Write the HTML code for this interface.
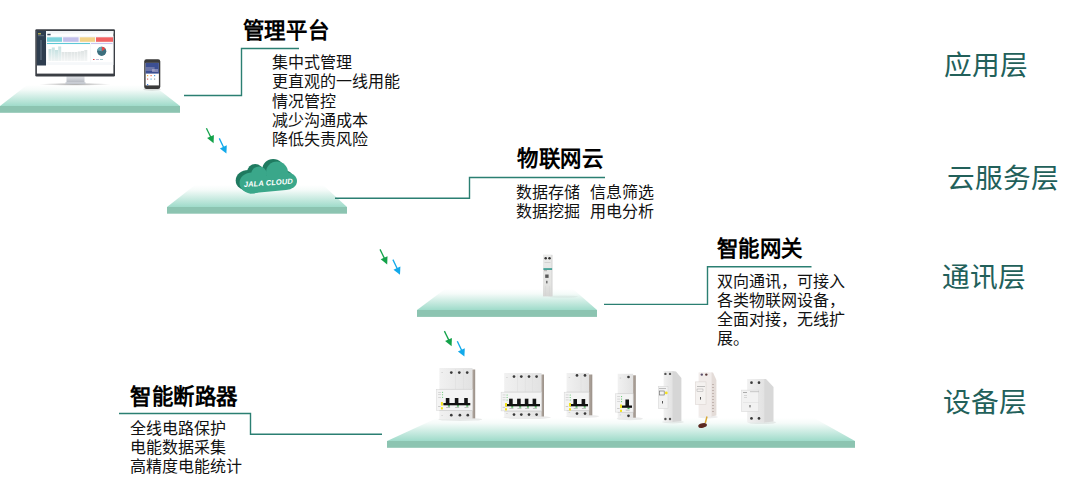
<!DOCTYPE html>
<html lang="zh-CN"><head><meta charset="utf-8">
<style>
html,body{margin:0;padding:0;background:#fff;}
body{width:1068px;height:490px;position:relative;overflow:hidden;font-family:"Liberation Sans",sans-serif;color:#111;}
.t{position:absolute;white-space:nowrap;}
.h{font-size:21.4px;letter-spacing:0.6px;font-weight:bold;line-height:24px;color:#000;}
.b{font-size:16px;line-height:19px;color:#111;}
.lay{font-size:27.7px;line-height:30px;color:#22605a;}
svg{position:absolute;left:0;top:0;}
</style></head><body>
<svg width="1068" height="490" viewBox="0 0 1068 490">
<defs>
<linearGradient id="pg" x1="0" y1="0" x2="0" y2="1">
<stop offset="0" stop-color="#ffffff"/>
<stop offset="0.22" stop-color="#f5fbf9"/>
<stop offset="1" stop-color="#9fdbca"/>
</linearGradient>
<linearGradient id="body" x1="0" y1="0" x2="1" y2="0">
<stop offset="0" stop-color="#f1f1f1"/>
<stop offset="1" stop-color="#e2e2e2"/>
</linearGradient>
<linearGradient id="side" x1="0" y1="0" x2="1" y2="0">
<stop offset="0" stop-color="#b6aca4"/>
<stop offset="1" stop-color="#9a9088"/>
</linearGradient>
<linearGradient id="stand" x1="0" y1="0" x2="0" y2="1">
<stop offset="0" stop-color="#e4e6ea"/>
<stop offset="1" stop-color="#b4b8c0"/>
</linearGradient>
<linearGradient id="bars" x1="0" y1="0" x2="0" y2="1">
<stop offset="0" stop-color="#c6e2e2"/>
<stop offset="1" stop-color="#f0f4f4"/>
</linearGradient>
<linearGradient id="bars2" x1="0" y1="0" x2="0" y2="1">
<stop offset="0" stop-color="#dfe4e4"/>
<stop offset="1" stop-color="#f4f6f6"/>
</linearGradient>
<radialGradient id="shd" cx="0.5" cy="0.5" r="0.5">
<stop offset="0" stop-color="#000" stop-opacity="0.35"/>
<stop offset="1" stop-color="#000" stop-opacity="0"/>
</radialGradient>
<linearGradient id="gw" x1="0" y1="0" x2="0" y2="1">
<stop offset="0" stop-color="#ebebea"/>
<stop offset="0.7" stop-color="#e4e4e2"/>
<stop offset="1" stop-color="#d6d6d4"/>
</linearGradient>
</defs>
<!-- platforms -->
<polygon points="0,106 27,85 153,85 180,106" fill="url(#pg)"/>
<rect x="0" y="106" width="180" height="6.8" fill="#8cc4b1"/>
<polygon points="167,207 195,185 323,185 347,207" fill="url(#pg)"/>
<rect x="167" y="207" width="180" height="6.7" fill="#8cc4b1"/>
<polygon points="417,310 445,289 573,289 597,310" fill="url(#pg)"/>
<rect x="417" y="310" width="180" height="6.9" fill="#8cc4b1"/>
<polygon points="387,441 437,418 814,418 855,441" fill="url(#pg)"/>
<rect x="387" y="441" width="468" height="6.8" fill="#8cc4b1"/>
<!-- connectors -->
<g fill="none" stroke="#2b7f72" stroke-width="1.4">
<polyline points="184,95.5 241.5,95.5 241.5,48.5 299,48.5"/>
<polyline points="335,198.3 469.5,198.3 469.5,177.5 605,177.5"/>
<polyline points="604,304.4 707.5,304.4 707.5,266.8 811.5,266.8"/>
<polyline points="119,413.5 250.5,413.5 250.5,434.3 382,434.3"/>
</g>
<!-- arrows -->
<defs>
<g id="arr">
<line x1="0" y1="0" x2="5.2" y2="10.5" stroke="#13a24a" stroke-width="1.3"/>
<polygon points="0.7,9.9 7.5,6.9 7.2,15.1" fill="#13a24a"/>
<line x1="12.9" y1="10.2" x2="18" y2="20.8" stroke="#12a9ea" stroke-width="1.3"/>
<polygon points="13.5,20.4 20.4,17.1 20,25.3" fill="#12a9ea"/>
</g>
</defs>
<use href="#arr" x="206.4" y="128.2"/>
<use href="#arr" x="380" y="249.4"/>
<use href="#arr" x="444.4" y="331.1"/>

<ellipse cx="75" cy="84.3" rx="36" ry="1.5" fill="url(#shd)"/>
<rect x="66.5" y="76" width="18" height="6.5" fill="url(#stand)"/>
<rect x="65.5" y="82.3" width="20" height="1.8" fill="#c4c8cf"/>
<rect x="35.3" y="29.2" width="79.7" height="47.3" rx="1.2" fill="#3a3e44"/>
<rect x="36.9" y="31" width="76.5" height="42.6" fill="#ffffff"/>
<rect x="36.9" y="31" width="9.1" height="34.5" fill="#2e3d4f"/>
<rect x="38" y="33" width="3" height="1.5" fill="#e0d050" opacity="0.7"/>
<rect x="38" y="35.5" width="6" height="0.6" fill="#7a8898"/>
<rect x="40" y="40" width="2" height="20" fill="#4a5a6c"/>
<rect x="46" y="31" width="67.4" height="2.5" fill="#f2f4f6"/>
<rect x="47.3" y="33.8" width="3.3" height="1.5" fill="#3a4a5c"/>
<rect x="46" y="36" width="67.4" height="29" fill="#f6f8fa"/>
<rect x="47" y="37.3" width="15" height="4.5" fill="#7dd3dc"/>
<rect x="63.1" y="37.3" width="15.5" height="4.5" fill="#c2bfea"/>
<rect x="79.8" y="37.3" width="15.2" height="4.5" fill="#f2d286"/>
<rect x="96" y="37.3" width="17" height="4.5" fill="#f26262"/>
<rect x="47" y="43" width="43" height="1.2" fill="#5cc8d6"/>
<rect x="91" y="43" width="21.5" height="1.2" fill="#c9c5ee"/>
<rect x="47" y="44.2" width="43" height="18" fill="#ffffff"/>
<rect x="91" y="44.2" width="21.5" height="18" fill="#ffffff"/>
<g fill="url(#bars)">
<rect x="48.5" y="49" width="3" height="12"/><rect x="51.8" y="47.5" width="3" height="13.5"/>
<rect x="55" y="50" width="3" height="11"/><rect x="58.2" y="46.5" width="3" height="14.5"/>
</g>
<g fill="url(#bars2)">
<rect x="61.5" y="52" width="3" height="9"/><rect x="64.8" y="52" width="3" height="9"/>
<rect x="68" y="52" width="3" height="9"/><rect x="71.3" y="52" width="3" height="9"/>
<rect x="74.5" y="52" width="3" height="9"/><rect x="77.8" y="51.5" width="3" height="9.5"/>
<rect x="81" y="51" width="3" height="10"/><rect x="84.3" y="50" width="3" height="11"/>
</g>
<circle cx="101.7" cy="51.3" r="4.6" fill="#3d6f7e"/>
<path d="M101.7 51.3 L101.7 46.7 A4.6 4.6 0 0 1 105.5 48.8 Z" fill="#e24848"/>
<path d="M101.7 51.3 L97.2 50.2 A4.6 4.6 0 0 1 101.7 46.7 Z" fill="#6aa9b6"/>
<rect x="93" y="59" width="1.5" height="1" fill="#e24848"/>
<rect x="96" y="59" width="3" height="0.8" fill="#aac"/>
<rect x="100" y="59" width="3" height="0.8" fill="#8bb"/>

<ellipse cx="152" cy="89.5" rx="9" ry="1.2" fill="#000" opacity="0.12"/>
<rect x="144.2" y="59.2" width="16.1" height="29.8" rx="2.2" fill="#3a3a3a"/>
<rect x="145.6" y="62.9" width="13.3" height="22.5" fill="#ffffff"/>
<rect x="145.6" y="62.9" width="13.3" height="10.7" fill="#3c4f92"/>
<rect x="145.6" y="67" width="9" height="4" fill="#8a90b8" opacity="0.6"/>
<rect x="152" y="69" width="6" height="3" fill="#c8c0d8" opacity="0.5"/>
<rect x="147" y="75" width="1.2" height="1.2" fill="#f0b040"/>
<rect x="150.5" y="75" width="1.2" height="1.2" fill="#f07050"/>
<rect x="154" y="75" width="1.2" height="1.2" fill="#50a0e0"/>
<rect x="147" y="78.5" width="1.2" height="1.2" fill="#e06060"/>
<rect x="150.5" y="78.5" width="1.2" height="1.2" fill="#60b0e0"/>
<rect x="154" y="78.5" width="1.2" height="1.2" fill="#90a0b0"/>
<rect x="147" y="84" width="1.2" height="1.2" fill="#4080e0"/>

<g>
<g fill="#1f7a60" transform="translate(-3.8,-2.6)">
<ellipse cx="252" cy="183" rx="12.5" ry="10.5"/>
<circle cx="259" cy="174.5" r="8"/>
<circle cx="277" cy="172.5" r="11"/>
<ellipse cx="286" cy="181" rx="11" ry="9"/>
<polygon points="250,193.5 286,190 286,176 250,176"/>
</g>
<g fill="#3aa78a">
<ellipse cx="252" cy="183" rx="12.5" ry="10.5"/>
<circle cx="259" cy="174.5" r="8"/>
<circle cx="277" cy="172.5" r="11"/>
<ellipse cx="286" cy="181" rx="11" ry="9"/>
<polygon points="250,193.5 286,190 286,176 250,176"/>
</g>
<text x="268.3" y="185.4" text-anchor="middle" font-family="Liberation Sans" font-style="italic" font-weight="bold" font-size="7.5" fill="#fff" letter-spacing="0.1" transform="rotate(-4 268 182)">JALA CLOUD</text>
</g>

<ellipse cx="563" cy="296.6" rx="15" ry="1.2" fill="#000" opacity="0.04"/>
<rect x="543" y="254.6" width="9.4" height="41.8" fill="url(#gw)"/>
<rect x="551.4" y="255" width="1" height="41" fill="#d6d6d6"/>
<circle cx="545.7" cy="258.3" r="1.25" fill="#333"/>
<circle cx="549.5" cy="258.3" r="1.25" fill="#333"/>
<rect x="544.5" y="262.5" width="6" height="0.5" fill="#bbb"/>
<rect x="543.4" y="268.2" width="8.7" height="1.7" fill="#3b9d92"/>
<rect x="544" y="270.5" width="3" height="0.6" fill="#888"/>
<rect x="545.2" y="274.5" width="3.4" height="3.4" fill="#5a5a5a"/>
<rect x="546.3" y="280.8" width="1.1" height="2.6" fill="#444"/>
<rect x="545" y="286" width="0.4" height="10" fill="#d2d2d2"/>
<rect x="549" y="286" width="0.4" height="10" fill="#d2d2d2"/>
<ellipse cx="460.3" cy="419.4" rx="21.9" ry="1.6" fill="#000" opacity="0.08"/>
<rect x="472.00" y="369.50" width="3.20" height="48.90" fill="url(#side)" />
<rect x="439.40" y="368.00" width="33.10" height="50.90" fill="url(#body)" />
<rect x="455.05" y="369.00" width="0.50" height="20.50" fill="#dcdcdc" />
<rect x="463.00" y="369.00" width="0.50" height="20.50" fill="#dcdcdc" />
<rect x="436.60" y="389.50" width="35.90" height="20.80" fill="#f4f4f4" stroke="#d4d4d4" stroke-width="0.5"/>
<rect x="439.40" y="410.30" width="33.10" height="0.60" fill="#cfcfcf" />
<rect x="439.40" y="388.90" width="33.10" height="0.60" fill="#d8d8d8" />
<circle cx="451.30" cy="372.60" r="1.35" fill="#3a3a3a" />
<circle cx="459.30" cy="372.60" r="1.35" fill="#3a3a3a" />
<circle cx="467.20" cy="372.60" r="1.35" fill="#3a3a3a" />
<circle cx="451.30" cy="415.20" r="1.35" fill="#3a3a3a" />
<circle cx="459.90" cy="415.20" r="1.35" fill="#3a3a3a" />
<circle cx="467.80" cy="415.20" r="1.35" fill="#3a3a3a" />
<rect x="445.80" y="398.00" width="3.60" height="5.50" fill="#141414" />
<rect x="447.90" y="405.20" width="2.00" height="1.40" fill="#3cb54a" />
<rect x="454.80" y="398.00" width="3.60" height="5.50" fill="#141414" />
<rect x="456.90" y="405.20" width="2.00" height="1.40" fill="#3cb54a" />
<rect x="464.20" y="398.00" width="3.60" height="5.50" fill="#141414" />
<rect x="466.30" y="405.20" width="2.00" height="1.40" fill="#3cb54a" />
<rect x="443.40" y="403.00" width="26.90" height="2.30" fill="#111" />
<rect x="440.90" y="402.00" width="2.00" height="3.60" fill="#f3e31c" />
<rect x="440.90" y="407.20" width="2.00" height="2.20" fill="#f3e31c" />
<rect x="446.10" y="407.30" width="4.00" height="0.60" fill="#9a9a9a" />
<rect x="455.10" y="407.30" width="4.00" height="0.60" fill="#9a9a9a" />
<rect x="464.50" y="407.30" width="4.00" height="0.60" fill="#9a9a9a" />
<rect x="438.10" y="406.30" width="2.50" height="0.60" fill="#aaa" />
<rect x="441.40" y="415.40" width="1.50" height="0.50" fill="#bbb" />
<rect x="441.40" y="372.00" width="1.50" height="0.50" fill="#bbb" />
<circle cx="442.60" cy="392.30" r="0.55" fill="#4cc25a" />
<circle cx="442.60" cy="394.80" r="0.55" fill="#4cc25a" />
<circle cx="442.60" cy="397.30" r="0.55" fill="#4cc25a" />
<rect x="438.10" y="392.00" width="3.00" height="0.50" fill="#bbb" />
<rect x="438.10" y="394.50" width="3.00" height="0.50" fill="#bbb" />
<rect x="438.10" y="397.00" width="3.00" height="0.50" fill="#bbb" />
<ellipse cx="527.1" cy="417.5" rx="23.9" ry="1.6" fill="#000" opacity="0.08"/>
<rect x="541.00" y="374.50" width="3.00" height="42.00" fill="url(#side)" />
<rect x="504.20" y="373.00" width="37.30" height="44.00" fill="url(#body)" />
<rect x="517.40" y="374.00" width="0.50" height="18.20" fill="#dcdcdc" />
<rect x="524.90" y="374.00" width="0.50" height="18.20" fill="#dcdcdc" />
<rect x="532.55" y="374.00" width="0.50" height="18.20" fill="#dcdcdc" />
<rect x="501.10" y="392.20" width="40.40" height="18.70" fill="#f4f4f4" stroke="#d4d4d4" stroke-width="0.5"/>
<rect x="504.20" y="410.90" width="37.30" height="0.60" fill="#cfcfcf" />
<rect x="504.20" y="391.60" width="37.30" height="0.60" fill="#d8d8d8" />
<circle cx="514.00" cy="376.60" r="1.35" fill="#3a3a3a" />
<circle cx="521.30" cy="376.60" r="1.35" fill="#3a3a3a" />
<circle cx="529.00" cy="376.60" r="1.35" fill="#3a3a3a" />
<circle cx="536.60" cy="376.60" r="1.35" fill="#3a3a3a" />
<circle cx="514.00" cy="414.60" r="1.35" fill="#3a3a3a" />
<circle cx="521.30" cy="414.60" r="1.35" fill="#3a3a3a" />
<circle cx="529.00" cy="414.60" r="1.35" fill="#3a3a3a" />
<circle cx="536.60" cy="414.60" r="1.35" fill="#3a3a3a" />
<rect x="509.10" y="398.70" width="3.60" height="5.80" fill="#141414" />
<rect x="511.20" y="406.20" width="2.00" height="1.40" fill="#3cb54a" />
<rect x="517.10" y="398.70" width="3.60" height="5.80" fill="#141414" />
<rect x="519.20" y="406.20" width="2.00" height="1.40" fill="#3cb54a" />
<rect x="524.80" y="398.70" width="3.60" height="5.80" fill="#141414" />
<rect x="526.90" y="406.20" width="2.00" height="1.40" fill="#3cb54a" />
<rect x="532.60" y="398.70" width="3.60" height="5.80" fill="#141414" />
<rect x="534.70" y="406.20" width="2.00" height="1.40" fill="#3cb54a" />
<rect x="505.50" y="404.00" width="34.50" height="2.30" fill="#111" />
<rect x="505.00" y="403.00" width="2.00" height="3.60" fill="#f3e31c" />
<rect x="505.00" y="408.20" width="2.00" height="2.20" fill="#f3e31c" />
<rect x="509.40" y="408.30" width="4.00" height="0.60" fill="#9a9a9a" />
<rect x="517.40" y="408.30" width="4.00" height="0.60" fill="#9a9a9a" />
<rect x="525.10" y="408.30" width="4.00" height="0.60" fill="#9a9a9a" />
<rect x="532.90" y="408.30" width="4.00" height="0.60" fill="#9a9a9a" />
<rect x="502.60" y="406.90" width="2.50" height="0.60" fill="#aaa" />
<rect x="506.20" y="413.50" width="1.50" height="0.50" fill="#bbb" />
<rect x="506.20" y="377.00" width="1.50" height="0.50" fill="#bbb" />
<circle cx="507.10" cy="395.00" r="0.55" fill="#4cc25a" />
<circle cx="507.10" cy="397.50" r="0.55" fill="#4cc25a" />
<circle cx="507.10" cy="400.00" r="0.55" fill="#4cc25a" />
<rect x="502.60" y="394.70" width="3.00" height="0.50" fill="#bbb" />
<rect x="502.60" y="397.20" width="3.00" height="0.50" fill="#bbb" />
<rect x="502.60" y="399.70" width="3.00" height="0.50" fill="#bbb" />
<ellipse cx="582.5" cy="416.3" rx="16.8" ry="1.6" fill="#000" opacity="0.08"/>
<rect x="588.50" y="374.50" width="3.80" height="40.80" fill="url(#side)" />
<rect x="566.60" y="373.00" width="22.40" height="42.80" fill="url(#body)" />
<rect x="580.75" y="374.00" width="0.50" height="18.20" fill="#dcdcdc" />
<rect x="564.20" y="392.20" width="24.80" height="18.10" fill="#f4f4f4" stroke="#d4d4d4" stroke-width="0.5"/>
<rect x="566.60" y="410.30" width="22.40" height="0.60" fill="#cfcfcf" />
<rect x="566.60" y="391.60" width="22.40" height="0.60" fill="#d8d8d8" />
<circle cx="577.00" cy="375.40" r="1.35" fill="#3a3a3a" />
<circle cx="585.00" cy="375.40" r="1.35" fill="#3a3a3a" />
<circle cx="577.00" cy="413.60" r="1.35" fill="#3a3a3a" />
<circle cx="585.00" cy="413.60" r="1.35" fill="#3a3a3a" />
<rect x="573.40" y="399.00" width="3.60" height="5.50" fill="#141414" />
<rect x="575.50" y="406.20" width="2.00" height="1.40" fill="#3cb54a" />
<rect x="581.60" y="399.00" width="3.60" height="5.50" fill="#141414" />
<rect x="583.70" y="406.20" width="2.00" height="1.40" fill="#3cb54a" />
<rect x="570.00" y="404.00" width="18.00" height="2.30" fill="#111" />
<rect x="569.00" y="403.00" width="2.00" height="3.60" fill="#f3e31c" />
<rect x="569.00" y="408.20" width="2.00" height="2.20" fill="#f3e31c" />
<rect x="573.70" y="408.30" width="4.00" height="0.60" fill="#9a9a9a" />
<rect x="581.90" y="408.30" width="4.00" height="0.60" fill="#9a9a9a" />
<rect x="565.70" y="406.30" width="2.50" height="0.60" fill="#aaa" />
<rect x="568.60" y="412.30" width="1.50" height="0.50" fill="#bbb" />
<rect x="568.60" y="377.00" width="1.50" height="0.50" fill="#bbb" />
<circle cx="570.20" cy="395.00" r="0.55" fill="#4cc25a" />
<circle cx="570.20" cy="397.50" r="0.55" fill="#4cc25a" />
<circle cx="570.20" cy="400.00" r="0.55" fill="#4cc25a" />
<rect x="565.70" y="394.70" width="3.00" height="0.50" fill="#bbb" />
<rect x="565.70" y="397.20" width="3.00" height="0.50" fill="#bbb" />
<rect x="565.70" y="399.70" width="3.00" height="0.50" fill="#bbb" />
<ellipse cx="629.8" cy="418.7" rx="13.0" ry="1.6" fill="#000" opacity="0.08"/>
<rect x="632.60" y="375.30" width="3.20" height="42.40" fill="url(#side)" />
<rect x="617.70" y="373.80" width="15.40" height="44.40" fill="url(#body)" />
<rect x="615.60" y="393.80" width="17.50" height="18.30" fill="#f4f4f4" stroke="#d4d4d4" stroke-width="0.5"/>
<rect x="617.70" y="412.10" width="15.40" height="0.60" fill="#cfcfcf" />
<rect x="617.70" y="393.20" width="15.40" height="0.60" fill="#d8d8d8" />
<circle cx="628.50" cy="377.00" r="1.35" fill="#3a3a3a" />
<circle cx="628.50" cy="415.80" r="1.35" fill="#3a3a3a" />
<rect x="625.40" y="399.50" width="3.60" height="6.50" fill="#141414" />
<rect x="627.50" y="407.70" width="2.00" height="1.40" fill="#3cb54a" />
<rect x="622.00" y="405.50" width="10.00" height="2.30" fill="#111" />
<rect x="620.00" y="404.50" width="2.00" height="3.60" fill="#f3e31c" />
<rect x="620.00" y="409.70" width="2.00" height="2.20" fill="#f3e31c" />
<rect x="625.70" y="409.80" width="4.00" height="0.60" fill="#9a9a9a" />
<rect x="617.10" y="408.10" width="2.50" height="0.60" fill="#aaa" />
<rect x="619.70" y="414.70" width="1.50" height="0.50" fill="#bbb" />
<rect x="619.70" y="377.80" width="1.50" height="0.50" fill="#bbb" />
<circle cx="621.60" cy="396.60" r="0.55" fill="#4cc25a" />
<circle cx="621.60" cy="399.10" r="0.55" fill="#4cc25a" />
<circle cx="621.60" cy="401.60" r="0.55" fill="#4cc25a" />
<rect x="617.10" y="396.30" width="3.00" height="0.50" fill="#bbb" />
<rect x="617.10" y="398.80" width="3.00" height="0.50" fill="#bbb" />
<rect x="617.10" y="401.30" width="3.00" height="0.50" fill="#bbb" />
<ellipse cx="673" cy="422" rx="11" ry="1.5" fill="#000" opacity="0.07"/>
<polygon points="672,371 676,371.5 681.4,378 681.4,421 672,422" fill="#d6d6d6"/>
<rect x="663.6" y="371" width="9" height="51" fill="url(#body)"/>
<rect x="658.3" y="386.4" width="9.7" height="22.2" fill="#f2f2f2" stroke="#d2d2d2" stroke-width="0.5"/>
<circle cx="665.4" cy="373.9" r="1.2" fill="#555"/>
<circle cx="670" cy="373.9" r="1.2" fill="#555"/>
<circle cx="665.4" cy="419" r="1.2" fill="#555"/>
<circle cx="670" cy="419" r="1.2" fill="#555"/>
<circle cx="666.3" cy="392.9" r="1.4" fill="#f4e020"/>
<rect x="659.6" y="391" width="4.6" height="4" fill="none" stroke="#666" stroke-width="0.6"/><rect x="659" y="388" width="7" height="0.6" fill="#999"/>
<rect x="662" y="401" width="1" height="2.5" fill="#555"/>

<ellipse cx="708" cy="417" rx="10" ry="1.5" fill="#000" opacity="0.07"/>
<polygon points="711,372.4 713,372.4 716.4,380 716.4,415.5 711,416.4" fill="#e4dcd8"/>
<rect x="698.6" y="372.4" width="13" height="44" fill="#f1ecea"/>
<rect x="695.4" y="381.9" width="10.6" height="22.4" fill="#f5f2f0" stroke="#d8d0cc" stroke-width="0.5"/>
<circle cx="701.8" cy="374.6" r="1.2" fill="#5a4e6a"/>
<circle cx="706.3" cy="374.6" r="1.2" fill="#5a3a3a"/>
<g fill="#a89890">
<rect x="712.3" y="384" width="1.4" height="0.8"/><rect x="712.3" y="387" width="1.4" height="0.8"/>
<rect x="712.3" y="390" width="1.4" height="0.8"/><rect x="712.3" y="393" width="1.4" height="0.8"/>
<rect x="712.3" y="396" width="1.4" height="0.8"/><rect x="712.3" y="399" width="1.4" height="0.8"/>
<rect x="712.3" y="402" width="1.4" height="0.8"/><rect x="712.3" y="405" width="1.4" height="0.8"/>
<rect x="712.3" y="408" width="1.4" height="0.8"/><rect x="712.3" y="411" width="1.4" height="0.8"/>
</g>
<rect x="697" y="386" width="8" height="0.6" fill="#999"/>
<rect x="697" y="389" width="6" height="2.5" fill="none" stroke="#999" stroke-width="0.4"/>
<rect x="700" y="397" width="1" height="2.6" fill="#555"/>
<line x1="707" y1="416.5" x2="705.3" y2="423" stroke="#d8a838" stroke-width="1.5"/>
<ellipse cx="702.6" cy="425.5" rx="4.4" ry="2.3" transform="rotate(-12 702.6 425.5)" fill="#5c2a22"/>

<ellipse cx="762" cy="422.5" rx="14" ry="1.6" fill="#000" opacity="0.07"/>
<polygon points="764,379 766,379 773.5,387 773.5,421.5 764,422.5" fill="#d8d8d8"/>
<rect x="747.1" y="379" width="17.2" height="43.5" fill="url(#body)"/>
<rect x="741.6" y="390.1" width="17.2" height="21.4" fill="#f2f2f2" stroke="#d4d4d4" stroke-width="0.5"/>
<circle cx="751.5" cy="382.7" r="1.35" fill="#3a3a3a"/>
<circle cx="759" cy="382.7" r="1.35" fill="#3a3a3a"/>
<circle cx="751.5" cy="418.4" r="1.35" fill="#3a3a3a"/>
<circle cx="759" cy="418.4" r="1.35" fill="#3a3a3a"/>
<rect x="743" y="392" width="4" height="0.8" fill="#999"/>
<rect x="750" y="391.5" width="9" height="0.6" fill="#aaa"/>
<rect x="744" y="395" width="3" height="0.5" fill="#bbb"/>
<rect x="744" y="397" width="3" height="0.5" fill="#bbb"/>
<rect x="743" y="402" width="16" height="0.5" fill="#ddd"/>
<rect x="749.5" y="405" width="1" height="2.4" fill="#555"/>

</svg>

<div class="t h" style="left:242.8px;top:19.3px">管理平台</div>
<div class="t b" style="left:272px;top:53px;line-height:19.3px">集中式管理<br>更直观的一线用能<br>情况管控<br>减少沟通成本<br>降低失责风险</div>

<div class="t h" style="left:517px;top:147.2px">物联网云</div>
<div class="t b" style="left:516px;top:183.3px">数据存储<span style="margin-left:9.8px"></span>信息筛选<br>数据挖掘<span style="margin-left:9.8px"></span>用电分析</div>

<div class="t h" style="left:716.7px;top:236.5px">智能网关</div>
<div class="t b" style="left:717px;top:271.5px">双向通讯，可接入<br>各类物联网设备，<br>全面对接，无线扩<br>展。</div>

<div class="t h" style="left:130px;top:384.7px">智能断路器</div>
<div class="t b" style="left:130px;top:419px">全线电路保护<br>电能数据采集<br>高精度电能统计</div>

<div class="t lay" style="left:943.5px;top:51px">应用层</div>
<div class="t lay" style="left:946.5px;top:164px">云服务层</div>
<div class="t lay" style="left:942px;top:262.6px">通讯层</div>
<div class="t lay" style="left:943px;top:387.6px">设备层</div>
</body></html>
